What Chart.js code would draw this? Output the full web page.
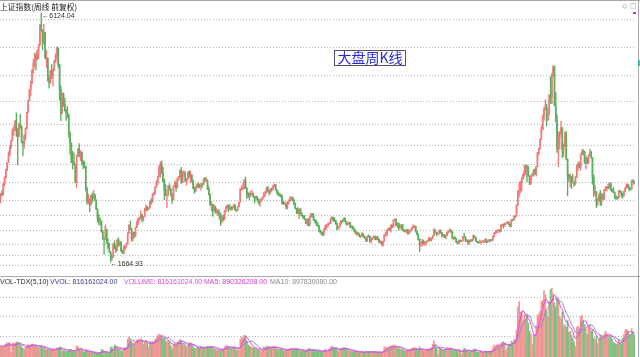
<!DOCTYPE html>
<html><head><meta charset="utf-8">
<script src="https://cdn.jsdelivr.net/npm/chart.js@4.4.1/dist/chart.umd.min.js"></script>
<style>
html,body{margin:0;padding:0;background:#fff;width:640px;height:357px;overflow:hidden;}
#c1{position:absolute;left:0;top:0;}
#c2{position:absolute;left:0;top:276px;}
</style></head><body>
<canvas id="c1" width="640" height="276"></canvas>
<canvas id="c2" width="640" height="81"></canvas>
<script>
// Weekly candles, Shanghai Composite, Mar 2007 - Aug 2016
const open = [
2831,2891,2864,3071,3183,3323,3445,3584,3720,3841,4022,4030,4181,4000,3914,4133,4091,3820,3781,3914,4058,4346,4560,4749,4870,5108,5218,5355,5313,5454,5552,5913,5818,5589,5777,5316,5316,4958,4871,5091,5007,5101,
5262,5361,5484,5180,4762,4320,4672,4497,4370,4348,4300,3962,3796,3472,3446,3412,3094,3557,3693,3613,3626,3473,3433,3379,2957,2748,2760,2703,2859,2804,2861,2775,2605,2450,2400,2397,2202,2079,2075,2249,2000,1930,1840,1763,1747,1986,1930,1871,2060,1973,2023,1867,
1820,1904,1954,1990,2182,2320,2261,2082,2193,2133,2281,2374,2444,2444,2514,2434,2477,2626,2645,2611,2632,2751,2748,2880,2880,3008,3112,3189,3372,3412,3261,3113,2960,2860,2861,3026,2960,2880,2779,3025,3081,2995,3165,3187,3308,3096,3242,3247,3113,3153,
3277,3196,3224,3128,2989,2939,3018,3051,3031,3013,3067,3059,3150,3130,3130,2979,2870,2688,2697,2583,2656,2553,2569,2514,2535,2382,2470,2424,2576,2637,2672,2604,2642,2610,2655,2688,2598,2587,2655,2738,2971,2975,2978,3129,2985,2888,2871,2857,2882,2895,2833,
2808,2838,2791,2715,2752,2798,2828,2899,2905,2992,2937,2906,2977,2967,3030,3050,2959,2911,2861,2872,2859,2709,2705,2705,2642,2746,2762,2797,2820,2777,2701,2626,2593,2534,2612,2528,2497,2482,2432,2359,2431,2317,2473,2528,2481,2416,2380,2360,2315,2224,2204,
2199,2163,2244,2319,2330,2351,2357,2439,2460,2421,2404,2349,2262,2302,2359,2406,2396,2452,2394,2344,2350,2373,2281,2306,2260,2225,2171,2185,2168,2127,2132,2168,2114,2092,2047,2128,2123,2027,2086,2105,2128,2067,2117,2069,2015,2026,1980,2033,2150,2153,2233,
2269,2242,2317,2291,2419,2432,2314,2359,2318,2278,2328,2237,2225,2207,2245,2177,2205,2246,2283,2288,2301,2211,2162,2073,1979,2007,2039,1992,2010,2029,2052,2085,2057,2098,2139,2236,2191,2160,2174,2228,2193,2133,2149,2106,2135,2197,2220,2238,2204,2085,2101,
2083,2013,2004,2054,2033,2044,2115,2113,2056,2057,2004,2047,2046,2058,2130,2097,2036,2026,2011,2026,2034,2039,2030,2070,2024,2036,2059,2046,2059,2126,2185,2194,2226,2240,2217,2327,2331,2329,2347,2364,2374,2341,2302,2420,2418,2478,2487,2683,2937,2938,3108,3157,
3235,3285,3376,3351,3210,3076,3204,3247,3310,3241,3372,3617,3691,3863,4034,4287,4393,4441,4205,4308,4657,4611,5023,5166,4478,4193,3686,3877,3957,4070,3663,3744,3965,3508,3232,3160,3200,3097,3092,3053,3183,3391,3412,3383,3590,3632,3630,3436,3525,3435,3578,3628,
3539,3186,2901,2916,2738,2763,2861,2767,2874,2810,2955,2979,3009,2985,3078,2959,2938,2913,2827,2825,2822,2938,2927,2885,2854,2933,2988,3054,3013,2979,2976,3125,3108
];
const high = [
2891,2945,3075,3195,3325,3450,3640,3760,3845,4050,4100,4200,4335,4060,4150,4311,4100,3830,3950,4070,4350,4560,4760,4900,5110,5300,5400,5400,5460,5560,5914,6124.04,5820,5920,5780,5450,5320,5000,5100,5200,5120,5280,
5400,5522,5500,5210,4820,4680,4700,4600,4400,4450,4300,4000,3800,3650,3622,3420,3580,3700,3786,3660,3640,3480,3470,3380,3000,2880,2790,2860,2900,2950,2880,2780,2620,2520,2450,2400,2230,2100,2333,2250,2079,2000,1850,1800,2000,2050,1960,2070,2100,2040,2030,1880,
1950,1960,2000,2190,2333,2400,2270,2200,2200,2290,2400,2450,2470,2580,2520,2480,2630,2690,2660,2640,2760,2800,2890,2920,3010,3120,3200,3390,3455,3478,3360,3150,3050,2880,3040,3068,2990,2890,3030,3120,3100,3170,3200,3320,3361,3290,3300,3280,3160,3280,
3295,3300,3230,3130,3000,3030,3070,3090,3060,3070,3070,3155,3181,3181,3135,3010,2880,2750,2700,2700,2670,2620,2600,2600,2540,2480,2500,2590,2660,2690,2690,2700,2660,2660,2700,2690,2600,2660,2740,2980,3030,3080,3140,3186,3000,2920,2900,2940,2940,2900,2840,
2850,2840,2800,2760,2800,2830,2910,2930,3000,3020,2950,2980,2990,3030,3067,3060,2960,2920,2900,2880,2860,2760,2740,2710,2750,2780,2830,2830,2830,2780,2720,2630,2640,2620,2620,2550,2500,2500,2440,2440,2440,2480,2530,2536,2530,2420,2420,2380,2320,2240,2210,
2200,2270,2330,2330,2360,2370,2450,2478,2470,2460,2410,2360,2305,2360,2410,2420,2453,2453,2400,2370,2390,2375,2320,2310,2270,2240,2200,2200,2170,2140,2190,2170,2130,2100,2130,2150,2130,2090,2110,2130,2130,2120,2120,2080,2050,2030,2040,2155,2205,2240,2270,
2280,2330,2340,2420,2444,2440,2370,2360,2330,2330,2340,2250,2240,2250,2250,2210,2250,2290,2330,2320,2310,2220,2170,2080,2020,2070,2060,2030,2030,2060,2110,2100,2100,2140,2270,2240,2200,2180,2240,2240,2200,2160,2160,2150,2210,2230,2260,2240,2210,2110,2120,
2090,2030,2060,2060,2050,2120,2177,2120,2070,2060,2050,2070,2070,2150,2140,2100,2040,2030,2060,2040,2050,2040,2080,2080,2050,2070,2070,2070,2130,2200,2220,2230,2250,2240,2330,2340,2350,2360,2370,2390,2390,2350,2430,2430,2500,2490,2690,2940,3090,3110,3180,3240,
3400,3400,3406,3380,3210,3210,3250,3320,3340,3380,3630,3700,3870,4100,4300,4440,4572,4490,4400,4660,4986,5050,5178,5176,4700,4300,3990,4000,4184,4070,3780,4000,4000,3510,3240,3240,3200,3240,3100,3200,3400,3460,3450,3600,3680,3678,3650,3560,3530,3590,3684,3650,
3540,3230,3040,2930,2800,2900,2950,2900,2880,2960,3020,3010,3060,3090,3080,2970,3000,2920,2850,2840,2945,2950,2930,2900,2940,3000,3070,3060,3030,2990,3130,3140,3110
];
const low = [
2723,2850,2860,3030,3160,3300,3440,3570,3700,3830,3930,4020,3915,3404,3900,4060,3800,3563,3700,3850,4050,4340,4550,4640,4860,5050,5150,5100,5280,5300,5540,5800,5460,5560,5300,5150,4900,4778,4860,4950,4812,5100,
5240,5300,5150,4559,4195,4320,4450,4370,4200,4250,3900,3600,3440,3330,3400,3080,2990,3550,3550,3480,3400,3330,3350,2940,2700,2700,2566,2680,2730,2800,2760,2600,2380,2330,2330,2200,2070,1802,2070,2000,1900,1840,1664.93,1700,1750,1900,1830,1870,1950,1950,1850,1814,
1815,1880,1930,1980,2180,2250,2040,2037,2090,2120,2280,2330,2400,2440,2380,2400,2477,2580,2580,2600,2630,2700,2730,2860,2880,3000,3050,3189,3180,3250,3100,2780,2860,2639,2850,2950,2850,2712,2779,3000,2930,2990,3120,3180,3070,3090,3200,3100,3040,3140,
3180,3080,3100,2980,2890,2930,2980,3000,2990,2950,3000,3050,3110,3100,2960,2860,2680,2580,2481,2580,2540,2540,2500,2430,2319,2360,2400,2420,2560,2630,2560,2600,2590,2600,2640,2590,2570,2580,2655,2738,2950,2960,2978,2980,2800,2820,2780,2840,2860,2820,2720,
2790,2750,2700,2661,2750,2770,2820,2840,2900,2930,2860,2890,2930,2960,3010,2950,2890,2850,2840,2820,2700,2700,2690,2610,2620,2700,2760,2760,2760,2690,2620,2530,2530,2440,2520,2480,2440,2420,2350,2330,2310,2307,2460,2470,2410,2370,2320,2300,2210,2180,2150,
2132,2140,2230,2260,2290,2330,2350,2420,2390,2390,2340,2242,2250,2290,2340,2370,2396,2390,2330,2320,2340,2280,2270,2250,2210,2170,2140,2150,2110,2100,2130,2110,2090,2030,2030,2110,2020,2000,2060,2100,2060,2060,2060,2010,2000,1960,1949,2030,2130,2130,2230,
2230,2200,2280,2290,2400,2310,2280,2240,2270,2240,2230,2210,2200,2190,2160,2170,2200,2220,2270,2270,2200,2150,2060,1849,1950,1950,1990,1960,1970,2020,2040,2040,2040,2080,2140,2180,2130,2160,2170,2180,2120,2110,2100,2080,2130,2180,2210,2190,2080,2060,2080,
2010,1990,1990,2020,2030,2040,2100,2030,2030,1974,1985,2030,2030,2050,2090,2030,2010,2000,2000,1991,2020,2010,2020,2010,2010,2030,2030,2040,2050,2120,2170,2180,2220,2190,2210,2300,2270,2300,2340,2360,2330,2290,2300,2400,2410,2450,2480,2680,2830,2900,2940,3150,
3200,3230,3100,3200,3050,3050,3200,3200,3230,3200,3370,3580,3690,3860,4030,4200,4390,4100,4200,4300,4500,4500,4990,4460,4170,3629,3373,3690,3950,3537,3550,3730,3500,2850,3100,3010,2980,3090,3020,3053,3180,3300,3350,3310,3590,3580,3430,3330,3430,3430,3570,3520,
3056,2840,2850,2638,2680,2750,2680,2680,2780,2780,2940,2940,2980,2980,2940,2920,2900,2800,2780,2790,2800,2910,2830,2807,2840,2930,2980,3000,2940,2950,2970,3090,3060
];
const close = [
2891,2864,3071,3183,3323,3445,3584,3720,3841,4022,4030,4181,4000,3914,4133,4091,3820,3781,3914,4058,4346,4560,4749,4870,5108,5218,5355,5313,5454,5552,5913,5818,5589,5777,5316,5316,4958,4871,5091,5007,5101,5262,
5361,5484,5180,4762,4320,4672,4497,4370,4348,4300,3962,3796,3472,3446,3412,3094,3557,3693,3613,3626,3473,3433,3379,2957,2748,2760,2703,2859,2804,2861,2775,2605,2450,2400,2397,2202,2079,2075,2293,2000,1930,1840,1763,1747,1986,1930,1871,2060,1973,2023,1867,1820,
1904,1954,1990,2182,2320,2261,2082,2193,2133,2281,2374,2444,2444,2514,2434,2477,2626,2645,2611,2632,2751,2748,2880,2880,3008,3112,3189,3372,3412,3261,3113,2960,2860,2861,3026,2960,2880,2779,3025,3081,2995,3165,3187,3308,3096,3242,3247,3113,3153,3277,
3196,3224,3128,2989,2939,3018,3051,3031,3013,3067,3059,3150,3130,3130,2979,2870,2688,2697,2583,2656,2553,2569,2514,2535,2382,2470,2424,2576,2637,2672,2604,2642,2610,2655,2688,2598,2587,2655,2738,2971,2975,2978,3129,2985,2888,2871,2857,2882,2895,2833,2808,
2838,2791,2715,2752,2798,2828,2899,2905,2992,2937,2906,2977,2967,3030,3050,2959,2911,2861,2872,2859,2709,2705,2705,2642,2746,2762,2797,2820,2777,2701,2626,2593,2534,2612,2528,2497,2482,2432,2359,2431,2317,2473,2528,2481,2416,2380,2360,2315,2224,2204,2199,
2163,2244,2319,2330,2351,2357,2439,2460,2421,2404,2349,2262,2302,2359,2406,2396,2452,2394,2344,2350,2373,2281,2306,2260,2225,2171,2185,2168,2127,2132,2168,2114,2092,2047,2128,2123,2027,2086,2105,2128,2067,2117,2069,2015,2026,1980,2033,2150,2153,2233,2269,
2242,2317,2291,2419,2432,2314,2359,2318,2278,2328,2237,2225,2207,2245,2177,2205,2246,2283,2288,2301,2211,2162,2073,1979,2007,2039,1992,2010,2029,2052,2085,2057,2098,2139,2236,2191,2160,2174,2228,2193,2133,2149,2106,2135,2197,2220,2238,2204,2085,2101,2083,
2013,2004,2054,2033,2044,2115,2113,2056,2057,2004,2047,2046,2058,2130,2097,2036,2026,2011,2026,2034,2039,2030,2070,2024,2036,2059,2046,2059,2126,2185,2194,2226,2240,2217,2327,2331,2329,2347,2364,2374,2341,2302,2420,2418,2478,2487,2683,2937,2938,3108,3157,3235,
3285,3376,3351,3210,3076,3204,3247,3310,3241,3372,3617,3691,3863,4034,4287,4393,4441,4205,4308,4657,4611,5023,5166,4478,4193,3686,3877,3957,4070,3663,3744,3965,3508,3232,3160,3200,3097,3092,3053,3183,3391,3412,3383,3590,3632,3630,3436,3525,3435,3578,3628,3539,
3186,2901,2916,2738,2763,2861,2767,2874,2810,2955,2979,3009,2985,3078,2959,2938,2913,2827,2825,2822,2938,2927,2885,2854,2933,2988,3054,3013,2979,2976,3125,3108,3070
];
// weekly volume, in 1e8 lots (亿手)
const volume = [
4.2,3.5,4.0,4.5,4.8,5.2,5.4,5.0,1.5,5.0,5.2,5.0,5.5,5.5,4.5,5.0,3.8,3.2,3.0,3.3,4.0,4.5,4.2,4.6,4.8,4.5,4.3,4.0,3.8,3.6,3.5,4.2,3.3,3.5,3.0,2.8,2.6,2.5,2.7,2.6,2.5,2.8,
3.0,3.5,3.2,3.8,3.5,2.0,2.5,2.2,2.0,2.0,2.4,2.8,2.6,2.3,2.0,2.2,4.2,3.8,2.8,2.6,2.5,2.0,1.8,2.4,2.2,1.8,1.9,1.7,1.6,1.5,1.4,1.4,1.3,1.4,1.5,2.8,2.6,1.8,1.6,1.7,1.4,1.6,3.5,3.8,3.0,4.5,4.0,3.6,3.0,2.8,2.5,2.0,
3.2,3.5,3.3,6.5,7.5,6.8,5.5,5.2,4.8,5.5,6.2,6.5,6.0,6.8,5.5,4.8,5.8,6.2,5.0,3.5,5.5,5.0,5.8,5.2,6.5,7.0,8.0,8.5,8.2,7.5,6.5,7.0,6.0,5.5,6.0,5.5,4.0,3.0,4.8,5.0,4.5,5.5,5.8,6.5,6.2,5.0,4.8,4.5,3.8,4.2,
5.0,5.2,4.5,4.0,3.2,3.0,3.2,3.5,3.3,3.6,3.4,3.8,3.6,3.5,4.0,3.6,3.8,4.0,3.5,3.0,2.8,2.6,2.4,2.6,2.2,3.0,2.8,3.8,4.2,4.0,3.8,3.5,3.2,3.6,3.8,3.2,2.4,3.0,2.5,6.5,7.5,7.0,8.0,7.8,6.0,4.5,4.2,3.8,3.6,3.4,3.2,
3.2,2.8,2.6,2.8,2.0,2.4,3.8,3.5,4.0,3.8,3.5,3.6,3.4,3.8,4.0,3.5,3.0,2.8,2.9,2.7,3.0,2.2,2.4,2.3,2.8,2.9,3.2,3.3,3.0,2.8,2.9,3.0,2.5,2.8,2.4,2.0,2.2,2.0,2.6,2.4,3.2,3.0,2.8,2.6,2.5,2.2,2.3,2.4,2.0,2.1,1.9,
1.8,2.5,3.0,2.4,2.6,2.8,3.6,4.0,3.5,3.2,3.0,2.8,2.0,2.6,3.2,3.0,3.6,3.4,2.8,2.6,2.4,2.2,2.0,1.9,2.0,2.0,1.9,1.8,1.7,2.0,1.8,1.7,1.6,2.2,1.9,1.8,1.9,1.8,2.0,1.8,2.0,1.7,1.6,1.7,1.8,1.6,2.0,3.8,3.2,3.6,3.4,
3.8,4.2,3.8,4.5,4.0,3.8,3.5,3.4,2.8,2.6,2.8,2.2,2.0,2.4,2.3,2.2,3.0,3.2,3.3,3.5,2.8,2.6,2.5,3.8,2.6,2.8,2.3,2.2,2.6,3.0,2.7,3.2,3.5,4.8,6.0,4.5,3.4,1.0,3.2,3.2,2.8,2.5,2.6,2.8,3.5,3.2,3.4,2.8,2.6,2.4,2.4,
2.4,2.2,2.0,2.3,0.8,2.4,3.2,3.0,2.4,2.2,2.0,2.2,2.1,2.8,3.0,2.6,1.8,1.6,1.8,1.9,1.7,1.8,2.0,2.1,1.9,2.0,2.1,2.3,3.4,4.4,4.0,4.4,4.6,4.0,5.0,5.5,5.6,5.2,2.6,3.6,4.8,4.5,5.8,5.5,6.4,6.2,10.0,18.5,20.5,16.5,17.0,13.5,
15.5,14.0,16.0,12.5,9.5,8.5,4.5,8.5,8.0,11.5,15.5,16.0,17.0,20.5,21.0,24.5,23.0,17.0,15.0,20.5,25.0,25.5,23.5,20.0,18.5,22.0,21.5,15.0,14.0,16.5,11.5,12.0,11.0,13.5,9.0,9.5,8.0,7.0,5.5,4.0,11.0,11.5,10.5,15.0,15.5,13.5,12.0,10.5,8.5,11.0,12.0,9.5,
10.0,7.0,6.5,7.5,5.0,6.5,8.0,8.0,6.5,8.5,9.5,8.5,7.0,8.5,7.5,6.5,5.5,5.0,4.8,4.6,6.5,5.2,4.8,6.9,8.4,10.0,10.2,9.7,8.5,8.2,10.5,9.2,8.16
];
// hidden dotted grid levels
const priceGrid = [6016.7,5502.7,4996,4548,4131,3748,3407.5,3092,2775,2494,2226,1982,1790,1598.7];
const volGrid = [7.51,15.06,22.2];
const titleText = '上证指数(周线 前复权)';
const boxText = '大盘周K线';
const volHeader = [
  {t:'VOL-TDX(5,10)', c:'#303030'},
  {t:'VVOL: 816161024.00', c:'#3a3a8c'},
  {t:'VOLUME: 816161024.00', c:'#e040e0'},
  {t:'MA5: 890326208.00', c:'#d838d8'},
  {t:'MA10: 897830080.00', c:'#8a8a8a'}
];
const headerX = [0,50,124,204,270];

const N = close.length;
if (open.length!==N||high.length!==N||low.length!==N||volume.length!==N) {
  throw new Error('length mismatch '+[open.length,high.length,low.length,close.length,volume.length].join(','));
}
const labels = close.map((_,i)=>i);
const UP='#f07a7a', DOWN='#5cae5c';
const candleColor = close.map((c,i)=> c>=open[i]?UP:DOWN);
const volColor = close.map((c,i)=> c>=open[i]?'#f39494':'#7cc07c');
const wick = low.map((l,i)=>[l,high[i]]);
const body = open.map((o,i)=>[o,close[i]]);
function ma(arr,n){return arr.map((_,i)=>{const s=Math.max(0,i-n+1);let t=0;for(let k=s;k<=i;k++)t+=arr[k];return t/(i-s+1);});}
const ma5 = ma(volume,5), ma10 = ma(volume,10);

const mainDeco = {
  id:'mainDeco',
  afterDraw(chart){
    const ctx=chart.ctx, xs=chart.scales.x, ys=chart.scales.y;
    ctx.save();
    ctx.strokeStyle='#a8a8a8'; ctx.lineWidth=1;
    ctx.beginPath(); ctx.moveTo(0,0.5); ctx.lineTo(640,0.5); ctx.stroke();
    ctx.beginPath(); ctx.moveTo(638.5,0); ctx.lineTo(638.5,276); ctx.stroke();
    ctx.textBaseline='middle';
    ctx.fillStyle='#202020';
    ctx.font='7.8px "Noto Sans CJK SC"';
    ctx.fillText(titleText,0,7);
    // extremes
    let hi=0, lo=0;
    for(let i=1;i<N;i++){ if(high[i]>high[hi]) hi=i; if(low[i]<low[lo]) lo=i; }
    ctx.font='7px "Liberation Sans"';
    ctx.fillStyle='#303030';
    const hx=xs.getPixelForValue(hi), hy=ys.getPixelForValue(high[hi]);
    ctx.fillText('←'+high[hi].toFixed(2), hx+1, hy+3);
    const lx=xs.getPixelForValue(lo), ly=ys.getPixelForValue(low[lo]);
    ctx.fillText('←'+low[lo].toFixed(2), lx, ly+2);
    // box label
    ctx.fillStyle='#ffffff';
    ctx.fillRect(334,50,72,16);
    ctx.strokeStyle='#505070';
    ctx.strokeRect(334.5,50.5,71,15);
    ctx.fillStyle='#2c2cd2';
    ctx.font='14px "Noto Sans CJK SC"';
    ctx.textAlign='center';
    ctx.fillText(boxText,370,58);
    // top-right icons
    ctx.textAlign='left';
    ctx.font='7px "DejaVu Sans"';
    ctx.fillStyle='#909090';
    ctx.fillText('◇',622,6);
    ctx.fillText('□',630,6);
    ctx.fillStyle='#e020e0';
    ctx.fillRect(633,12,3,2);
    ctx.fillStyle='#40c0c0';
    ctx.fillRect(638,60,2,6);
    ctx.restore();
  }
};
const volDeco = {
  id:'volDeco',
  afterDraw(chart){
    const ctx=chart.ctx;
    ctx.save();
    ctx.strokeStyle='#a8a8a8'; ctx.lineWidth=1;
    ctx.beginPath(); ctx.moveTo(0,0.5); ctx.lineTo(640,0.5); ctx.stroke();
    ctx.beginPath(); ctx.moveTo(638.5,0); ctx.lineTo(638.5,81); ctx.stroke();
    ctx.textBaseline='middle';
    ctx.font='7px "Liberation Sans"';
    volHeader.forEach((h,i)=>{ ctx.fillStyle=h.c; ctx.fillText(h.t, headerX[i], 6); });
    ctx.restore();
  }
};
const hiddenY = (min,max,grid)=>({
  min, max,
  ticks:{display:false},
  border:{display:false, dash:[1,2]},
  grid:{color:'#b4b4b4', lineWidth:1, drawTicks:false},
  afterBuildTicks:(s)=>{ s.ticks = grid.map(v=>({value:v})); },
  afterFit:(s)=>{ s.width=0; }
});

new Chart(document.getElementById('c1'), {
  type:'bar',
  data:{labels, datasets:[
    {data:wick, backgroundColor:candleColor, barThickness:0.7, grouped:false, order:2},
    {data:body, backgroundColor:candleColor, barThickness:1.0, grouped:false, order:1}
  ]},
  options:{
    responsive:false, animation:false, events:[],
    layout:{padding:{left:0,right:5,top:0,bottom:0}},
    plugins:{legend:{display:false}, tooltip:{enabled:false}},
    scales:{ x:{display:false, offset:true}, y:hiddenY(1414.3,6357,priceGrid) }
  },
  plugins:[mainDeco]
});

new Chart(document.getElementById('c2'), {
  type:'bar',
  data:{labels, datasets:[
    {type:'line', data:ma5, borderColor:'#e048e0', borderWidth:1, pointRadius:0, order:0},
    {type:'line', data:ma10, borderColor:'#9a8ac0', borderWidth:1, pointRadius:0, order:1},
    {data:volume, backgroundColor:volColor, barThickness:1.0, order:2}
  ]},
  options:{
    responsive:false, animation:false, events:[],
    layout:{padding:{left:0,right:5,top:0,bottom:0}},
    plugins:{legend:{display:false}, tooltip:{enabled:false}},
    scales:{ x:{display:false, offset:true}, y:hiddenY(0,29.97,volGrid) }
  },
  plugins:[volDeco]
});
</script>
</body></html>
